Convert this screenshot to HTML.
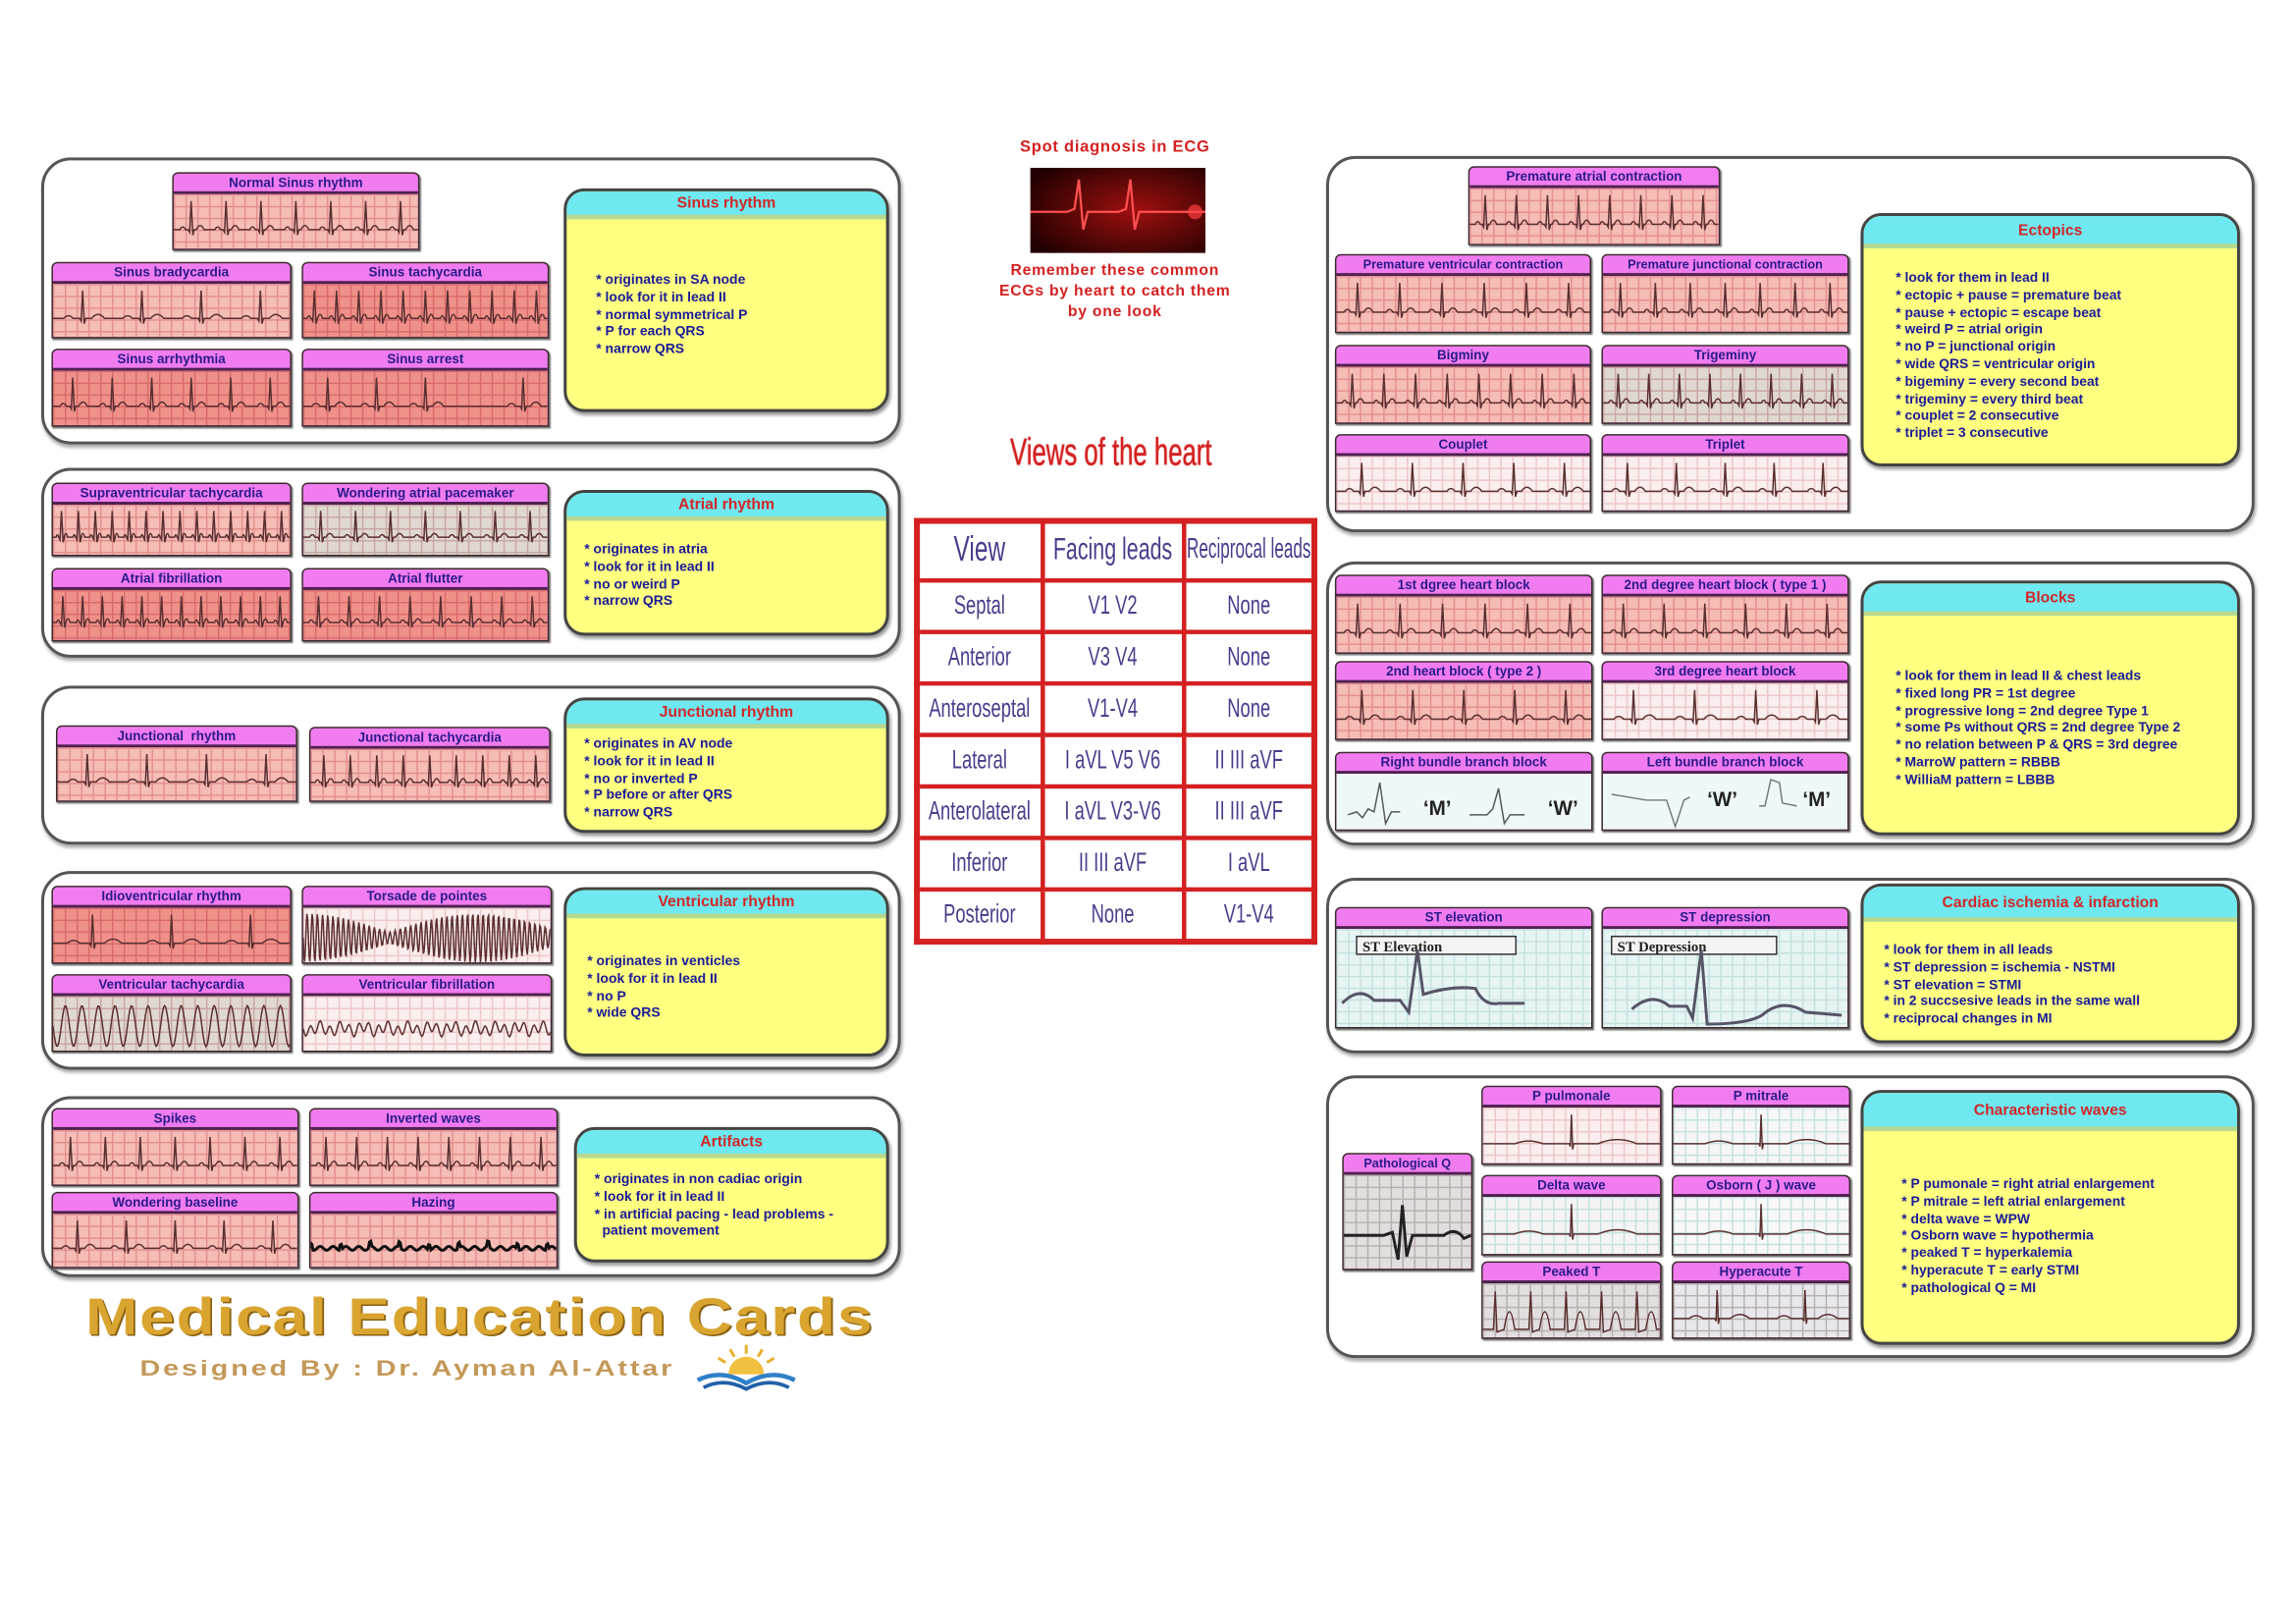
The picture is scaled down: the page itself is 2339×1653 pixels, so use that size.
<!DOCTYPE html>
<html><head><meta charset="utf-8"><style>
html,body{margin:0;padding:0;background:#fff;width:2339px;height:1653px;overflow:hidden}
*{box-sizing:border-box}
#c{position:absolute;left:0;top:0;width:1560px;height:1103px;transform:scale(1.4994,1.4986);transform-origin:0 0;font-family:"Liberation Sans",sans-serif}
#rw{position:absolute;left:0;top:0;width:1560px;height:1103px;transform-origin:906px 107px;transform:translate(-5px,-1px) scale(0.995)}
.g{position:absolute;border:2px solid #555;border-radius:20px;box-shadow:1px 2px 2px #aaa}
.s{position:absolute;border:1.5px solid #3a2a2a;background:#f07cf0;border-radius:4px 4px 0 0;overflow:hidden;box-shadow:1px 1px 1px #777}
.s .h{height:14px;background:#f07cf0;border-bottom:2px solid #502050;font-weight:bold;font-size:9px;color:#2a1a8a;text-align:center;line-height:13px;white-space:nowrap}
.s .b{position:absolute;top:14px;bottom:0;left:0;right:0;background-color:#f6bcb6;background-image:linear-gradient(#e29090 1px,transparent 1px),linear-gradient(90deg,#e29090 1px,transparent 1px);background-size:8px 8px}
.s .b.r{background-color:#f0908a;background-image:linear-gradient(#d86c6c 1px,transparent 1px),linear-gradient(90deg,#d86c6c 1px,transparent 1px)}
.s .b.l{background-color:#fbeeee;background-image:linear-gradient(#ecc8c8 1px,transparent 1px),linear-gradient(90deg,#ecc8c8 1px,transparent 1px)}
.s .b.c{background-color:#e6f4f4;background-image:linear-gradient(#c6e0e0 1px,transparent 1px),linear-gradient(90deg,#c6e0e0 1px,transparent 1px)}
.s .b.gr{background-color:#e2dede;background-image:linear-gradient(#b8b0b0 1px,transparent 1px),linear-gradient(90deg,#b8b0b0 1px,transparent 1px)}
.s .b.k{background-color:#e0d8d0;background-image:linear-gradient(#c8a8a0 1px,transparent 1px),linear-gradient(90deg,#c8a8a0 1px,transparent 1px)}
.b svg{position:absolute;left:0;top:0;width:100%;height:100%}
.i{position:absolute;background:#ffff80;border:2px solid #444;border-radius:14px;overflow:hidden;box-shadow:1px 2px 2px #999}
.i .h{background:#70e8f0;height:19px;border-bottom:3px solid #b8d890;color:#d02828;font-weight:bold;font-size:10.5px;text-align:center;line-height:17px}
.i .t{position:absolute;left:20px;color:#1a1a9a;font-weight:bold;font-size:9.3px;line-height:11.8px;white-space:nowrap}
.ctr{position:absolute;color:#d42020;font-weight:bold;text-align:center;letter-spacing:0.5px}
table{position:absolute;left:621px;top:352px;width:274px;height:290px;border-collapse:collapse;border:4px solid #d42020;table-layout:fixed}
td{border:3px solid #d42020;text-align:center;color:#4a3c8c;font-size:18px;padding:0;overflow:visible;white-space:nowrap}
td span{display:block;width:200%;margin-left:-50%;text-align:center;transform:scaleX(0.68)}
</style></head><body><div id="c">

<div class="g" style="left:28px;top:107px;width:584px;height:195px"></div>
<div class="g" style="left:28px;top:318px;width:584px;height:129px"></div>
<div class="g" style="left:28px;top:466px;width:584px;height:108px"></div>
<div class="g" style="left:28px;top:592px;width:584px;height:135px"></div>
<div class="g" style="left:28px;top:745px;width:584px;height:123px"></div>

<div class="s" style="left:117px;top:117px;width:168px;height:53px"><div class="h">Normal Sinus rhythm</div><div class="b"><svg class="tr n7"></svg></div></div>
<div class="s" style="left:35px;top:178px;width:163px;height:52px"><div class="h">Sinus bradycardia</div><div class="b"><svg class="tr n4"></svg></div></div>
<div class="s" style="left:205px;top:178px;width:168px;height:52px"><div class="h">Sinus tachycardia</div><div class="b r"><svg class="tr n11"></svg></div></div>
<div class="s" style="left:35px;top:237px;width:163px;height:53px"><div class="h">Sinus arrhythmia</div><div class="b r"><svg class="tr n6"></svg></div></div>
<div class="s" style="left:205px;top:237px;width:168px;height:53px"><div class="h">Sinus arrest</div><div class="b r"><svg class="tr a5"></svg></div></div>
<div class="i" style="left:383px;top:128px;width:221px;height:152px"><div class="h">Sinus rhythm</div><div class="t" style="top:55px">* originates in SA node<br>* look for it in lead II<br>* normal symmetrical P<br>* P for each QRS<br>* narrow QRS</div></div>

<div class="s" style="left:35px;top:328px;width:163px;height:50px"><div class="h">Supraventricular tachycardia</div><div class="b"><svg class="tr n14"></svg></div></div>
<div class="s" style="left:205px;top:328px;width:168px;height:50px"><div class="h">Wondering atrial pacemaker</div><div class="b k"><svg class="tr n7"></svg></div></div>
<div class="s" style="left:35px;top:386px;width:163px;height:50px"><div class="h">Atrial fibrillation</div><div class="b r"><svg class="tr n12"></svg></div></div>
<div class="s" style="left:205px;top:386px;width:168px;height:50px"><div class="h">Atrial flutter</div><div class="b r"><svg class="tr n8"></svg></div></div>
<div class="i" style="left:383px;top:333px;width:221px;height:99px"><div class="h">Atrial rhythm</div><div class="t" style="top:33px;left:12px">* originates in atria<br>* look for it in lead II<br>* no or weird P<br>* narrow QRS</div></div>

<div class="s" style="left:38px;top:493px;width:164px;height:52px"><div class="h">Junctional&nbsp; rhythm</div><div class="b"><svg class="tr n4"></svg></div></div>
<div class="s" style="left:210px;top:494px;width:164px;height:51px"><div class="h">Junctional tachycardia</div><div class="b"><svg class="tr n9"></svg></div></div>
<div class="i" style="left:383px;top:474px;width:221px;height:92px"><div class="h">Junctional rhythm</div><div class="t" style="top:24px;left:12px">* originates in AV node<br>* look for it in lead II<br>* no or inverted P<br>* P before or after QRS<br>* narrow QRS</div></div>

<div class="s" style="left:35px;top:602px;width:163px;height:53px"><div class="h">Idioventricular rhythm</div><div class="b r"><svg class="tr n3"></svg></div></div>
<div class="s" style="left:205px;top:602px;width:170px;height:53px"><div class="h">Torsade de pointes</div><div class="b l"><svg class="tr tor"></svg></div></div>
<div class="s" style="left:35px;top:662px;width:163px;height:53px"><div class="h">Ventricular tachycardia</div><div class="b k"><svg class="tr vt"></svg></div></div>
<div class="s" style="left:205px;top:662px;width:170px;height:53px"><div class="h">Ventricular fibrillation</div><div class="b l"><svg class="tr vf"></svg></div></div>
<div class="i" style="left:383px;top:603px;width:221px;height:115px"><div class="h">Ventricular rhythm</div><div class="t" style="top:43px;left:14px">* originates in venticles<br>* look for it in lead II<br>* no P<br>* wide QRS</div></div>

<div class="s" style="left:35px;top:753px;width:168px;height:53px"><div class="h">Spikes</div><div class="b"><svg class="tr n7"></svg></div></div>
<div class="s" style="left:210px;top:753px;width:169px;height:53px"><div class="h">Inverted waves</div><div class="b"><svg class="tr n8"></svg></div></div>
<div class="s" style="left:35px;top:810px;width:168px;height:52px"><div class="h">Wondering baseline</div><div class="b"><svg class="tr n5"></svg></div></div>
<div class="s" style="left:210px;top:810px;width:169px;height:52px"><div class="h">Hazing</div><div class="b"><svg class="tr hz"></svg></div></div>
<div class="i" style="left:390px;top:766px;width:214px;height:92px"><div class="h">Artifacts</div><div class="t" style="top:28px;left:12px">* originates in non cadiac origin<br>* look for it in lead II<br>* in artificial pacing - lead problems -<br>&nbsp;&nbsp;patient movement</div></div>

<div style="position:absolute;left:58px;top:876px;font-size:35px;font-weight:bold;color:#d9a530;letter-spacing:1px;text-shadow:1px 1px 0 #8a6010;white-space:nowrap;transform:scaleX(1.22);transform-origin:0 0">Medical Education Cards</div>
<div style="position:absolute;left:95px;top:922px;font-size:15px;font-weight:bold;color:#c49858;letter-spacing:1.5px;white-space:nowrap;transform:scaleX(1.28);transform-origin:0 0">Designed By : Dr. Ayman Al-Attar</div>
<svg style="position:absolute;left:468px;top:912px" width="78" height="34" viewBox="0 0 78 34">
<g stroke="#e8b030" stroke-width="2"><line x1="39" y1="2" x2="39" y2="8"/><line x1="28" y1="5" x2="31" y2="10"/><line x1="50" y1="5" x2="47" y2="10"/><line x1="20" y1="11" x2="25" y2="14"/><line x1="58" y1="11" x2="53" y2="14"/></g>
<path d="M27 22 A12 12 0 0 1 51 22 Z" fill="#f0c040"/>
<path d="M6 26 Q22 18 39 28 Q56 18 72 26" fill="none" stroke="#3080c8" stroke-width="3"/>
<path d="M10 31 Q24 24 39 32 Q54 24 68 31" fill="none" stroke="#2060a8" stroke-width="2.5"/></svg>

<div class="ctr" style="left:660px;top:94px;width:195px;font-size:11px">Spot diagnosis in ECG</div>
<svg style="position:absolute;left:700px;top:114px" width="119" height="58"><defs><radialGradient id="rg" cx="0.6" cy="0.5" r="0.7"><stop offset="0" stop-color="#a01010"/><stop offset="1" stop-color="#200000"/></radialGradient></defs><rect width="119" height="58" fill="url(#rg)"/><path d="M0 30 L25 30 L30 28 L33 8 L36 42 L39 30 L60 30 L65 28 L68 8 L71 42 L74 30 L119 30" fill="none" stroke="#ff5050" stroke-width="1.5"/><circle cx="112" cy="30" r="5" fill="#ff4040" opacity="0.7"/></svg>
<div class="ctr" style="left:650px;top:177px;width:215px;font-size:10.5px;line-height:14px">Remember these common<br>ECGs by heart to catch them<br>by one look</div>
<div class="ctr" style="left:640px;top:292px;width:230px;font-size:26px;font-weight:normal;letter-spacing:0"><span style="display:inline-block;transform:scaleX(0.66);white-space:nowrap;text-shadow:0 0 1px #d42020">Views of the heart</span></div>
<table>
<colgroup><col style="width:85px"><col style="width:96px"><col></colgroup>
<tr style="height:40px"><td style="font-size:24px"><span>View</span></td><td style="font-size:21px"><span>Facing leads</span></td><td style="font-size:19px"><span style="transform:scaleX(0.6)">Reciprocal leads</span></td></tr>
<tr><td><span>Septal</span></td><td><span>V1 V2</span></td><td><span>None</span></td></tr>
<tr><td><span>Anterior</span></td><td><span>V3 V4</span></td><td><span>None</span></td></tr>
<tr><td><span>Anteroseptal</span></td><td><span>V1-V4</span></td><td><span>None</span></td></tr>
<tr><td><span>Lateral</span></td><td><span>I aVL V5 V6</span></td><td><span>II III aVF</span></td></tr>
<tr><td><span>Anterolateral</span></td><td><span>I aVL V3-V6</span></td><td><span>II III aVF</span></td></tr>
<tr><td><span>Inferior</span></td><td><span>II III aVF</span></td><td><span>I aVL</span></td></tr>
<tr><td><span>Posterior</span></td><td><span>None</span></td><td><span>V1-V4</span></td></tr>
</table>

<div id="rw">
<div class="g" style="left:906px;top:107px;width:634px;height:257px"></div>
<div class="g" style="left:906px;top:384px;width:634px;height:194px"></div>
<div class="g" style="left:906px;top:600px;width:634px;height:120px"></div>
<div class="g" style="left:906px;top:735px;width:634px;height:193px"></div>

<div class="s" style="left:1003px;top:114px;width:172px;height:54px"><div class="h">Premature atrial contraction</div><div class="b"><svg class="tr n8"></svg></div></div>
<div class="s" style="left:912px;top:174px;width:175px;height:54px"><div class="h" style="font-size:8.5px">Premature ventricular contraction</div><div class="b"><svg class="tr n6"></svg></div></div>
<div class="s" style="left:1094px;top:174px;width:169px;height:54px"><div class="h" style="font-size:8.5px">Premature junctional contraction</div><div class="b"><svg class="tr n7"></svg></div></div>
<div class="s" style="left:912px;top:236px;width:175px;height:54px"><div class="h">Bigminy</div><div class="b"><svg class="tr n8"></svg></div></div>
<div class="s" style="left:1094px;top:236px;width:169px;height:54px"><div class="h">Trigeminy</div><div class="b k"><svg class="tr n8"></svg></div></div>
<div class="s" style="left:912px;top:297px;width:175px;height:53px"><div class="h">Couplet</div><div class="b l"><svg class="tr n5"></svg></div></div>
<div class="s" style="left:1094px;top:297px;width:169px;height:53px"><div class="h">Triplet</div><div class="b l"><svg class="tr n5"></svg></div></div>
<div class="i" style="left:1271px;top:146px;width:259px;height:173px"><div class="h" style="height:22px;line-height:20px">Ectopics</div><div class="t" style="top:37px;left:22px">* look for them in lead II<br>* ectopic + pause = premature beat<br>* pause + ectopic = escape beat<br>* weird P = atrial origin<br>* no P = junctional origin<br>* wide QRS = ventricular origin<br>* bigeminy = every second beat<br>* trigeminy = every third beat<br>* couplet = 2 consecutive<br>* triplet = 3 consecutive</div></div>

<div class="s" style="left:912px;top:393px;width:176px;height:54px"><div class="h">1st dgree heart block</div><div class="b"><svg class="tr n6"></svg></div></div>
<div class="s" style="left:1094px;top:393px;width:169px;height:54px"><div class="h">2nd degree heart block ( type 1 )</div><div class="b"><svg class="tr n6"></svg></div></div>
<div class="s" style="left:912px;top:452px;width:176px;height:54px"><div class="h">2nd heart block ( type 2 )</div><div class="b"><svg class="tr n5"></svg></div></div>
<div class="s" style="left:1094px;top:452px;width:169px;height:54px"><div class="h">3rd degree heart block</div><div class="b l"><svg class="tr n4"></svg></div></div>
<div class="s" style="left:912px;top:514px;width:176px;height:54px"><div class="h">Right bundle branch block</div><div class="b c" style="background-image:none;background:#eef8f8"><svg viewBox="0 0 176 38" preserveAspectRatio="none"><path d="M8 28 L14 26 L18 30 L22 24 L26 26 L30 6 L34 34 L38 26 L44 26" fill="none" stroke="#555" stroke-width="1"/><path d="M92 28 L104 28 L108 24 L112 10 L116 34 L120 28 L130 28" fill="none" stroke="#555" stroke-width="1"/><text x="60" y="28" font-size="14" font-weight="bold" fill="#222" font-family="Liberation Sans">‘M’</text><text x="146" y="28" font-size="14" font-weight="bold" fill="#222" font-family="Liberation Sans">‘W’</text></svg></div></div>
<div class="s" style="left:1094px;top:514px;width:169px;height:54px"><div class="h">Left bundle branch block</div><div class="b c" style="background-image:none;background:#eef8f8"><svg viewBox="0 0 169 38" preserveAspectRatio="none"><path d="M6 14 L30 18 L44 18 L50 36 L56 18 L60 16" fill="none" stroke="#777" stroke-width="1"/><path d="M108 22 L112 22 L116 4 L122 6 L124 20 L134 22" fill="none" stroke="#777" stroke-width="1"/><text x="72" y="22" font-size="14" font-weight="bold" fill="#222" font-family="Liberation Sans">‘W’</text><text x="138" y="22" font-size="14" font-weight="bold" fill="#222" font-family="Liberation Sans">‘M’</text></svg></div></div>
<div class="i" style="left:1271px;top:397px;width:259px;height:174px"><div class="h" style="height:22px;line-height:20px">Blocks</div><div class="t" style="top:58px;left:22px">* look for them in lead II &amp; chest leads<br>* fixed long PR = 1st degree<br>* progressive long = 2nd degree Type 1<br>* some Ps without QRS = 2nd degree Type 2<br>* no relation between P &amp; QRS = 3rd degree<br>* MarroW pattern = RBBB<br>* WilliaM pattern = LBBB</div></div>

<div class="s" style="left:912px;top:620px;width:176px;height:83px"><div class="h">ST elevation</div><div class="b c"><svg viewBox="0 0 176 66" preserveAspectRatio="none"><rect x="14" y="5" width="110" height="12" fill="#f4f4f4" stroke="#333"/><text x="18" y="15" font-size="10" font-weight="bold" font-family="Liberation Serif" fill="#222">ST Elevation</text><path d="M4 50 Q16 38 26 48 L44 48 L50 56 L56 14 L60 44 Q80 38 96 40 Q102 52 112 50 L130 50" fill="none" stroke="#556" stroke-width="2"/></svg></div></div>
<div class="s" style="left:1094px;top:620px;width:169px;height:83px"><div class="h">ST depression</div><div class="b c"><svg viewBox="0 0 169 66" preserveAspectRatio="none"><rect x="6" y="5" width="114" height="12" fill="#f4f4f4" stroke="#333"/><text x="10" y="15" font-size="10" font-weight="bold" font-family="Liberation Serif" fill="#222">ST Depression</text><path d="M20 54 Q34 42 46 52 L58 52 L62 60 L68 14 L72 64 Q100 64 110 58 Q124 46 140 56 L165 58" fill="none" stroke="#556" stroke-width="2"/></svg></div></div>
<div class="i" style="left:1271px;top:604px;width:259px;height:109px"><div class="h" style="height:24px;line-height:22px">Cardiac ischemia &amp; infarction</div><div class="t" style="top:38px;left:14px">* look for them in all leads<br>* ST depression = ischemia - NSTMI<br>* ST elevation = STMI<br>* in 2 succsesive leads in the same wall<br>* reciprocal changes in MI</div></div>

<div class="s" style="left:1012px;top:742px;width:123px;height:54px"><div class="h">P pulmonale</div><div class="b l"><svg class="tr n1"></svg></div></div>
<div class="s" style="left:1142px;top:742px;width:122px;height:54px"><div class="h">P mitrale</div><div class="b c" style="background-color:#f6f6f6"><svg class="tr n1"></svg></div></div>
<div class="s" style="left:917px;top:788px;width:89px;height:80px"><div class="h" style="font-size:8.5px">Pathological Q</div><div class="b gr"><svg viewBox="0 0 89 62" preserveAspectRatio="none"><path d="M0 40 L28 40 L34 38 L38 56 L41 20 L44 54 L48 40 L70 40 Q78 34 84 42 L89 40" fill="none" stroke="#222" stroke-width="2"/></svg></div></div>
<div class="s" style="left:1012px;top:803px;width:123px;height:55px"><div class="h">Delta wave</div><div class="b c" style="background-color:#f4f4f4"><svg class="tr n1"></svg></div></div>
<div class="s" style="left:1142px;top:803px;width:122px;height:55px"><div class="h">Osborn ( J ) wave</div><div class="b c" style="background-color:#f8f8f8"><svg class="tr n1"></svg></div></div>
<div class="s" style="left:1012px;top:862px;width:123px;height:53px"><div class="h">Peaked T</div><div class="b gr"><svg class="tr pk"></svg></div></div>
<div class="s" style="left:1142px;top:862px;width:122px;height:53px"><div class="h">Hyperacute T</div><div class="b gr" style="background-color:#e8e8ec"><svg class="tr n2"></svg></div></div>
<div class="i" style="left:1271px;top:745px;width:259px;height:174px"><div class="h" style="height:26px;line-height:24px">Characteristic waves</div><div class="t" style="top:57px;left:26px">* P pumonale = right atrial enlargement<br>* P mitrale = left atrial enlargement<br>* delta wave = WPW<br>* Osborn wave = hypothermia<br>* peaked T = hyperkalemia<br>* hyperacute T = early STMI<br>* pathological Q = MI</div></div>
</div>

</div>
<script>
document.querySelectorAll('svg.tr').forEach(function(s){
  var cls=s.getAttribute('class').split(' ')[1];
  s.setAttribute('viewBox','0 0 100 40');s.setAttribute('preserveAspectRatio','none');
  var d='',b=26,x,i;
  if(cls[0]=='n'||cls[0]=='a'){
    var n=parseInt(cls.slice(1));var st=100/n;d='M0 '+b;
    for(i=0;i<n;i++){
      if(cls[0]=='a'&&(i==3))continue;
      x=(i+0.5)*st;
      d+=' L'+(x-st*0.32)+' '+b+' Q'+(x-st*0.24)+' '+(b-4)+' '+(x-st*0.16)+' '+b+' L'+(x-1.2)+' '+b+' L'+(x-0.6)+' '+(b+2)+' L'+x+' 5 L'+(x+0.7)+' '+(b+4)+' L'+(x+1.3)+' '+b+' L'+(x+st*0.15)+' '+b+' Q'+(x+st*0.26)+' '+(b-6)+' '+(x+st*0.37)+' '+b;
    }
    d+=' L100 '+b;
  } else if(cls=='vt'){d='M0 22';for(x=0;x<=100;x+=0.5)d+=' L'+x+' '+(22+15*Math.sin(x*0.9));}
  else if(cls=='vf'){d='M0 24';for(x=0;x<=100;x+=0.5)d+=' L'+x+' '+(24+4*Math.sin(x*1.6)+2*Math.sin(x*0.7));}
  else if(cls=='tor'){d='M0 22';for(x=0;x<=100;x+=0.3)d+=' L'+x+' '+(22+(4+14*Math.abs(Math.cos(x*0.045)))*Math.sin(x*3));}
  else if(cls=='hz'){d='M0 26';for(x=0;x<=100;x+=0.5)d+=' L'+x+' '+(26+1.5*Math.sin(x*1.2)-((x%12)<1?4:0));}
  else if(cls=='pk'){d='M0 34';for(i=0;i<5;i++){x=i*20+6;d+=' L'+x+' 34 L'+(x+1)+' 6 L'+(x+2)+' 36 L'+(x+6)+' 34 Q'+(x+9)+' 8 '+(x+12)+' 34';}d+=' L100 34';}
  var p=document.createElementNS('http://www.w3.org/2000/svg','path');
  p.setAttribute('d',d);p.setAttribute('fill','none');p.setAttribute('stroke',cls=='hz'?'#111':'#5a3030');
  p.setAttribute('stroke-width',cls=='hz'?'2':'1');p.setAttribute('vector-effect','non-scaling-stroke');
  s.appendChild(p);
});
</script>
</body></html>
